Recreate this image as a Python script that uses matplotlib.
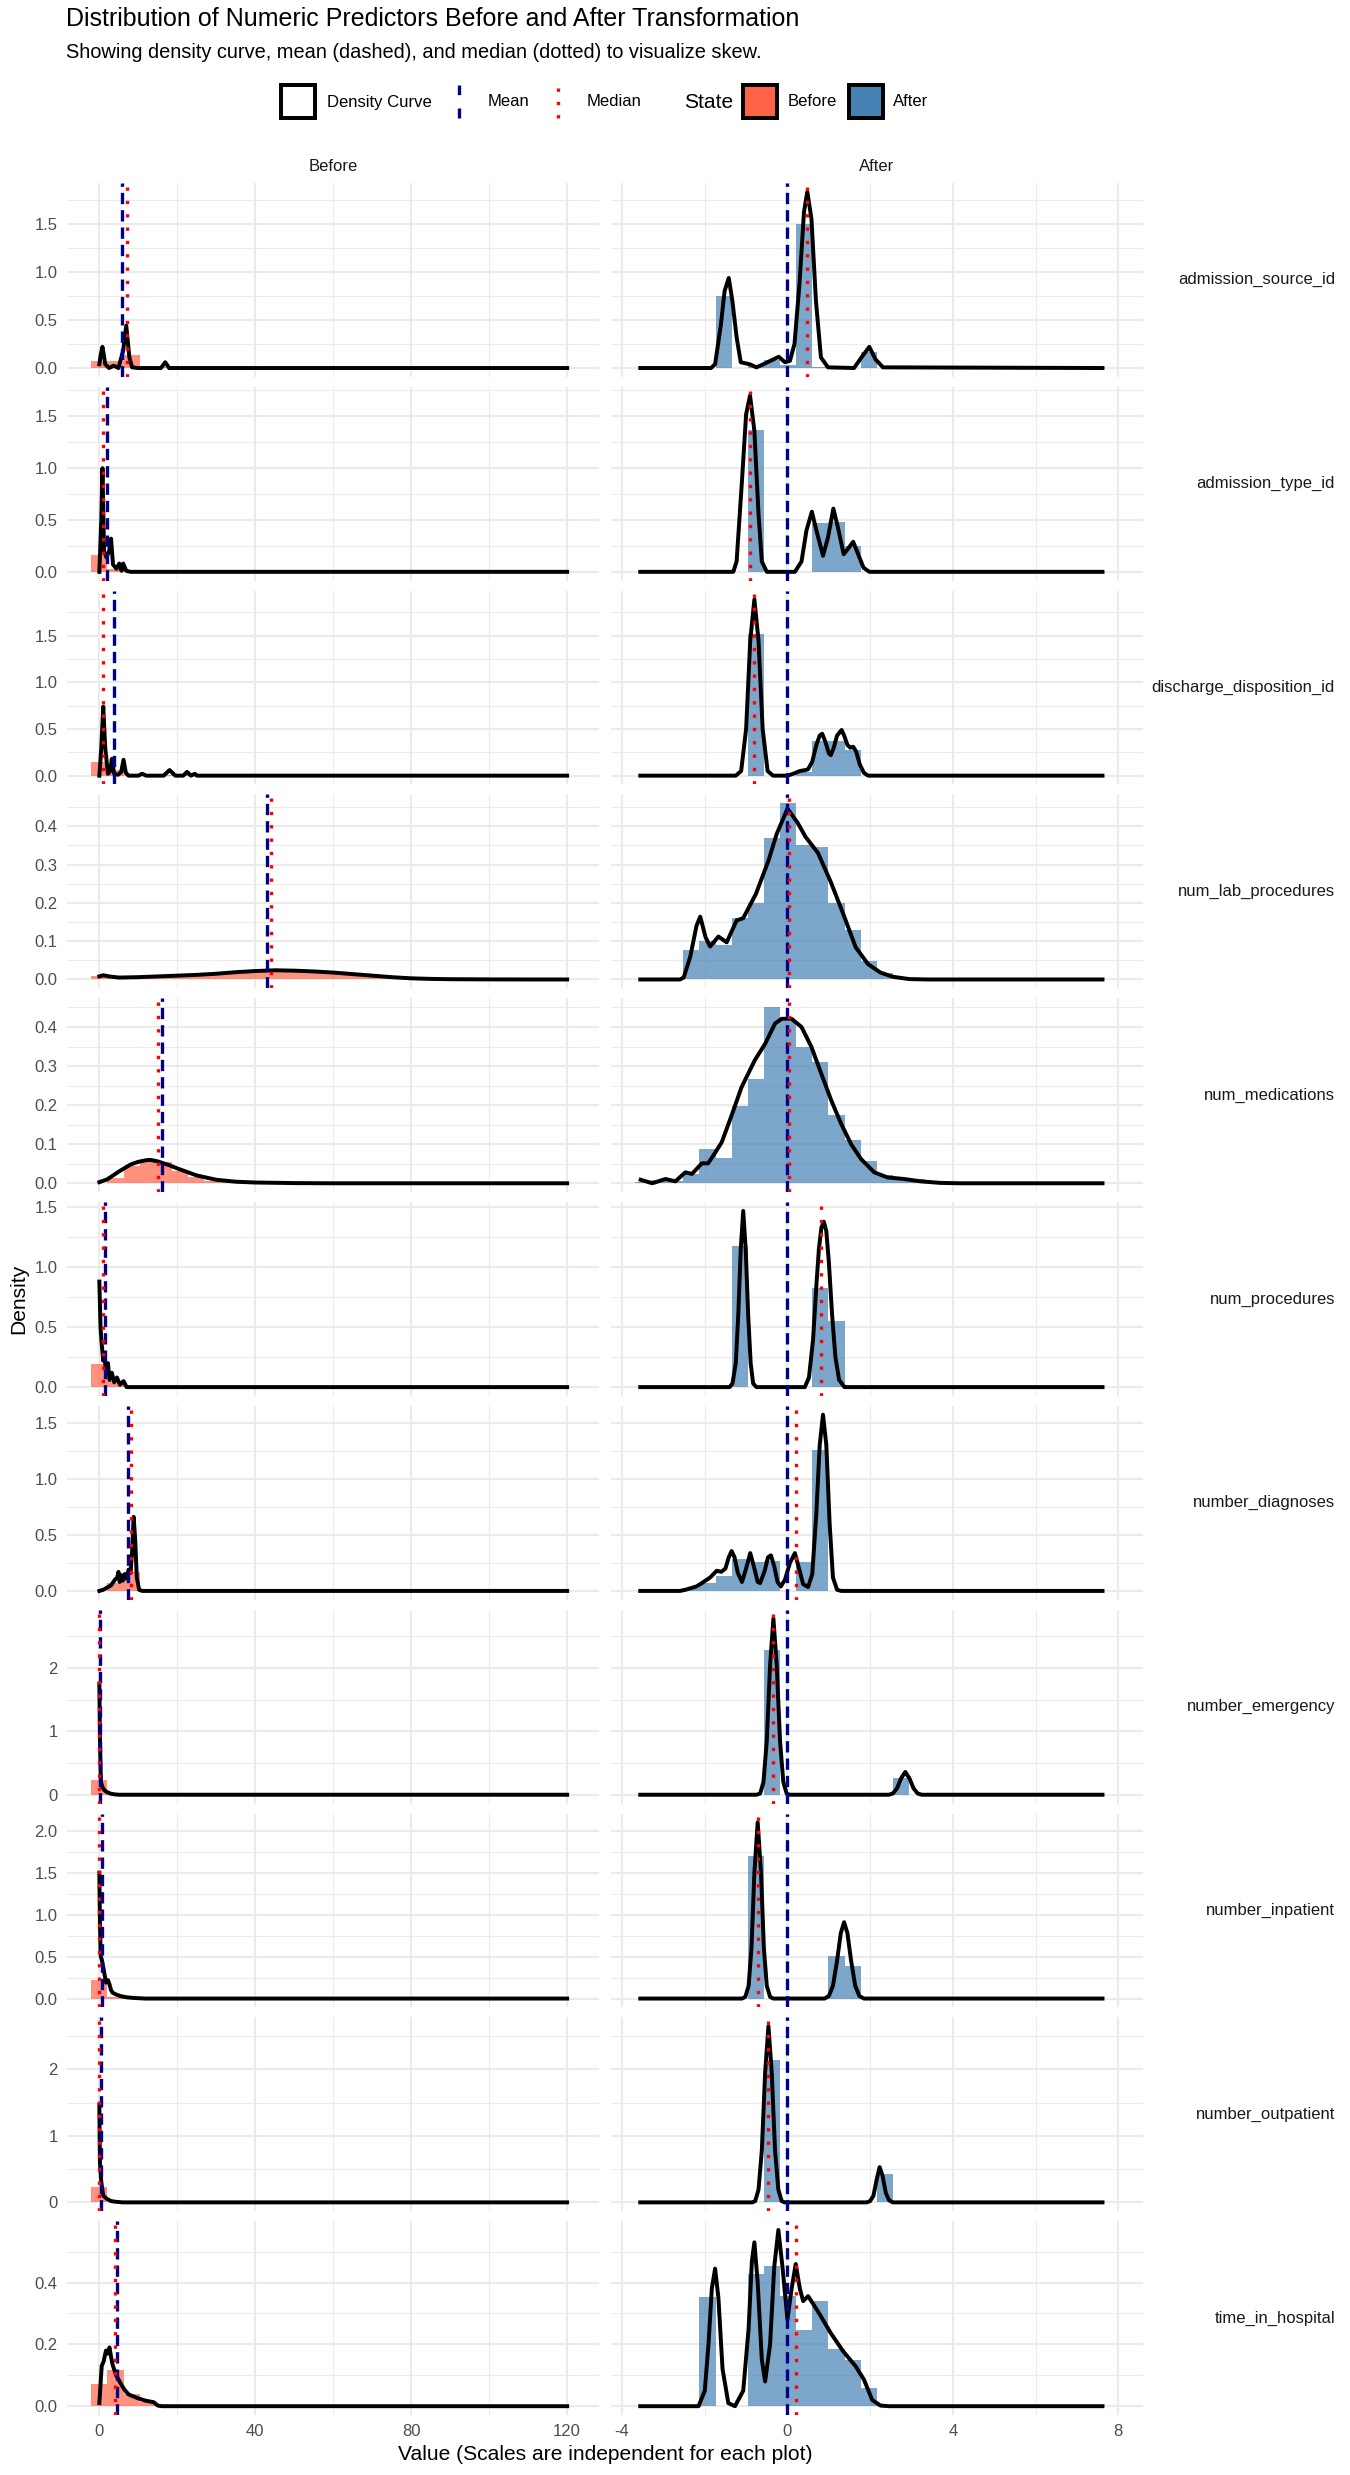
import matplotlib.pyplot as plt
import numpy as np
from matplotlib.lines import Line2D
from matplotlib.patches import Rectangle
from matplotlib.ticker import FormatStrFormatter, MultipleLocator
from matplotlib.transforms import blended_transform_factory

plt.rcParams["font.family"] = ["Liberation Sans", "DejaVu Sans"]
plt.rcParams["axes.unicode_minus"] = False

variables = [
    "admission_source_id", "admission_type_id", "discharge_disposition_id",
    "num_lab_procedures", "num_medications", "num_procedures",
    "number_diagnoses", "number_emergency", "number_inpatient",
    "number_outpatient", "time_in_hospital",
]

# histogram bins (30 bins per column, density scale)
before_bin_start = -2.07
before_bin_width = 4.14
after_bin_start = -3.69
after_bin_width = 0.39

before_mean = [5.75, 2.02, 3.7, 43.1, 16.0, 1.34, 7.4, 0.2, 0.64, 0.37, 4.4]
before_median = [7.0, 1.0, 1.0, 44.0, 15.0, 1.0, 8.0, 0.0, 0.0, 0.0, 4.0]
after_mean = [0.0] * 11
after_median = [0.48, -0.905, -0.8, 0.04, 0.04, 0.8, 0.2, -0.34, -0.72, -0.46, 0.2]

y_tick_step = [0.5, 0.5, 0.5, 0.1, 0.1, 0.5, 0.5, 1, 0.5, 1, 0.2]

# ---- admission_source_id
source_before_hist = [0.076, 0.076, 0.137, 0.0, 0.008]
source_before_x = [0, 0.4, 0.8, 1.2, 1.5, 2.5, 3.7, 4.9, 6.1, 6.9, 7.7, 8.4, 9.9, 15.8, 16.9, 17.9, 120]
source_before_y = [0.04, 0.15, 0.22, 0.12, 0.04, 0.0, 0.024, 0.0, 0.18, 0.44, 0.11, 0.007, 0.0, 0.0, 0.06, 0.0, 0.0]
source_after_hist = [0, 0, 0, 0, 0, 0.75, 0, 0.02, 0.087, 0.03, 1.5, 0.01, 0, 0, 0.17]
source_after_x = [-3.56, -1.85, -1.75, -1.61, -1.52, -1.42, -1.33, -1.23, -1.13, -0.92, -0.75, -0.58,
                  -0.21, -0.06, 0.06, 0.17, 0.29, 0.40, 0.48, 0.58, 0.69, 0.81, 0.98, 1.61, 1.79,
                  1.98, 2.13, 2.31, 7.62]
source_after_y = [0, 0, 0.04, 0.45, 0.8, 0.935, 0.69, 0.32, 0.06, 0.04, 0.007, 0.04, 0.117, 0.06,
                  0.075, 0.25, 0.87, 1.62, 1.83, 1.55, 0.69, 0.11, 0.007, 0, 0.11, 0.22, 0.09, 0.007, 0]

# ---- admission_type_id
type_before_hist = [0.164, 0.03]
type_before_x = [0, 0.5, 0.8, 1.0, 1.2, 1.8, 2.5, 3.0, 3.5, 4.4, 5.1, 5.7, 6.1, 6.9, 8.0, 120]
type_before_y = [0.0, 0.5, 1.0, 0.6, 0.2, 0.14, 0.2, 0.32, 0.07, 0.03, 0.08, 0.01, 0.08, 0.01, 0, 0]
type_after_hist = [0, 0, 0, 0, 0, 0, 0, 1.365, 0, 0, 0, 0.468, 0.484, 0.245]
type_after_x = [-3.56, -1.31, -1.23, -1.1, -1.0, -0.905, -0.8, -0.7, -0.62, -0.5, 0.18, 0.34, 0.46,
                0.59, 0.7, 0.86, 0.98, 1.11, 1.22, 1.36, 1.46, 1.59, 1.71, 1.84, 1.98, 7.62]
type_after_y = [0, 0, 0.1, 0.88, 1.52, 1.70, 1.36, 0.56, 0.1, 0, 0, 0.1, 0.4, 0.58, 0.4, 0.155, 0.33,
                0.61, 0.43, 0.17, 0.22, 0.29, 0.17, 0.04, 0, 0]

# ---- discharge_disposition_id
discharge_before_hist = [0.142, 0.065, 0.003, 0.0, 0.009, 0.005, 0.004]
discharge_before_x = [0, 0.5, 1.0, 1.5, 2.2, 2.8, 3.2, 3.8, 4.8, 5.6, 6.2, 6.8, 7.5, 10, 11, 12,
                      16.5, 18, 19.5, 21.5, 22.5, 23.5, 24.5, 25, 25.5, 120]
discharge_before_y = [0.0, 0.3, 0.74, 0.3, 0.02, 0.05, 0.18, 0.02, 0.01, 0.04, 0.17, 0.03, 0.0, 0.0,
                      0.02, 0.0, 0.0, 0.06, 0.0, 0.0, 0.04, 0.0, 0.02, 0.0, 0.0, 0.0]
discharge_after_hist = [0, 0, 0, 0, 0, 0, 0, 1.52, 0, 0, 0.04, 0.37, 0.37, 0.27]
discharge_after_x = [-3.56, -1.25, -1.12, -1.0, -0.9, -0.8, -0.7, -0.6, -0.48, -0.35, 0.0, 0.14, 0.3,
                     0.44, 0.5, 0.6, 0.7, 0.78, 0.84, 0.92, 1.0, 1.05, 1.12, 1.2, 1.31, 1.38, 1.45,
                     1.52, 1.59, 1.66, 1.75, 1.85, 1.95, 7.62]
discharge_after_y = [0, 0, 0.05, 0.5, 1.45, 1.89, 1.45, 0.5, 0.05, 0, 0, 0.02, 0.05, 0.06, 0.07, 0.15,
                     0.33, 0.43, 0.45, 0.36, 0.24, 0.22, 0.3, 0.43, 0.49, 0.42, 0.33, 0.3, 0.31, 0.26,
                     0.12, 0.03, 0, 0]

# ---- num_lab_procedures
lab_before_hist = [0.009, 0.006, 0.005, 0.005, 0.007, 0.009, 0.010, 0.012, 0.014, 0.018, 0.021, 0.024,
                   0.024, 0.022, 0.020, 0.017, 0.014, 0.011, 0.007, 0.004, 0.002, 0.001, 0.0005]
lab_before_x = [0, 1, 2.5, 5, 10, 15, 20, 25, 30, 35, 40, 45, 50, 55, 60, 65, 70, 75, 80, 85, 90, 100,
                110, 120]
lab_before_y = [0.008, 0.011, 0.008, 0.005, 0.006, 0.008, 0.010, 0.012, 0.015, 0.019, 0.022, 0.024,
                0.023, 0.021, 0.018, 0.014, 0.010, 0.006, 0.003, 0.0015, 0.0007, 0.0002, 0, 0]
lab_after_hist = [0, 0, 0, 0.078, 0.10, 0.09, 0.16, 0.20, 0.37, 0.46, 0.35, 0.345, 0.20, 0.13, 0.047,
                  0.016]
lab_after_x = [-3.56, -2.6, -2.51, -2.35, -2.2, -2.11, -1.98, -1.87, -1.67, -1.47, -1.23, -1.07, -0.76,
               -0.46, -0.26, 0.0, 0.24, 0.44, 0.74, 1.05, 1.35, 1.65, 1.95, 2.25, 2.55, 2.95, 3.4, 7.62]
lab_after_y = [0, 0, 0.005, 0.06, 0.14, 0.164, 0.11, 0.086, 0.112, 0.097, 0.154, 0.16, 0.224, 0.31,
               0.38, 0.446, 0.41, 0.372, 0.33, 0.254, 0.171, 0.084, 0.04, 0.018, 0.007, 0.001, 0, 0]

# ---- num_medications
meds_before_hist = [0.001, 0.013, 0.043, 0.058, 0.055, 0.032, 0.015, 0.007, 0.003, 0.0015, 0.001]
meds_before_x = [0, 2, 5, 8, 10, 12, 13, 15, 18, 20, 25, 30, 35, 40, 50, 60, 120]
meds_before_y = [0.003, 0.01, 0.03, 0.048, 0.055, 0.059, 0.06, 0.056, 0.046, 0.038, 0.02, 0.009,
                 0.004, 0.002, 0.0005, 0, 0]
meds_after_hist = [0.004, 0.009, 0.005, 0.024, 0.089, 0.064, 0.199, 0.266, 0.451, 0.415, 0.349, 0.31,
                   0.174, 0.112, 0.056, 0.02, 0.014, 0.01, 0.006, 0.003]
meds_after_x = [-3.55, -3.27, -2.95, -2.71, -2.47, -2.31, -2.07, -1.92, -1.75, -1.59, -1.35, -1.11,
                -0.79, -0.54, -0.3, -0.14, 0.1, 0.34, 0.58, 0.82, 1.06, 1.3, 1.54, 1.78, 2.1, 2.42,
                2.82, 3.22, 3.7, 4.2, 7.62]
meds_after_y = [0.009, 0.0, 0.011, 0.005, 0.028, 0.024, 0.051, 0.051, 0.078, 0.105, 0.174, 0.246,
                0.315, 0.357, 0.409, 0.421, 0.421, 0.4, 0.349, 0.28, 0.212, 0.152, 0.1, 0.062, 0.028,
                0.015, 0.011, 0.005, 0.001, 0, 0]

# ---- num_procedures
procs_before_hist = [0.19, 0.05]
procs_before_x = [0, 0.3, 0.6, 1.0, 1.3, 1.7, 2.2, 2.6, 3.2, 3.8, 4.5, 5.3, 6.2, 7.0, 120]
procs_before_y = [0.88, 0.5, 0.36, 0.22, 0.28, 0.12, 0.2, 0.06, 0.12, 0.04, 0.08, 0.02, 0.05, 0.0, 0.0]
procs_after_hist = [0, 0, 0, 0, 0, 0, 1.18, 0, 0, 0, 0, 0.83, 0.55]
procs_after_x = [-3.56, -1.4, -1.33, -1.25, -1.19, -1.13, -1.07, -1.01, -0.95, -0.89, -0.83, -0.75,
                 0.42, 0.52, 0.62, 0.7, 0.76, 0.82, 0.88, 0.94, 1.0, 1.08, 1.16, 1.25, 1.38, 7.62]
procs_after_y = [0, 0, 0.03, 0.2, 0.6, 1.15, 1.47, 1.15, 0.6, 0.2, 0.03, 0, 0, 0.08, 0.4, 0.85, 1.15,
                 1.33, 1.38, 1.3, 1.05, 0.6, 0.25, 0.06, 0, 0]

# ---- number_diagnoses
diag_before_hist = [0.001, 0.07, 0.166, 0.003]
diag_before_x = [0, 1, 2, 3, 4, 4.6, 4.9, 5.2, 5.6, 6.0, 6.5, 7.0, 7.5, 8.0, 8.4, 8.8, 9.2, 9.6, 10.2,
                 11, 120]
diag_before_y = [0, 0.01, 0.03, 0.05, 0.1, 0.12, 0.17, 0.08, 0.14, 0.09, 0.15, 0.11, 0.19, 0.16, 0.35,
                 0.66, 0.45, 0.12, 0.01, 0, 0]
diag_after_hist = [0, 0, 0, 0.03, 0.07, 0.13, 0.28, 0.26, 0.27, 0, 0.26, 1.26]
diag_after_x = [-3.56, -2.6, -2.47, -2.2, -2.07, -1.87, -1.71, -1.6, -1.5, -1.42, -1.35, -1.28, -1.2,
                -1.1, -1.0, -0.9, -0.8, -0.72, -0.66, -0.55, -0.47, -0.4, -0.32, -0.24, -0.16, -0.06,
                0.06, 0.18, 0.28, 0.38, 0.5, 0.6, 0.7, 0.78, 0.86, 0.94, 1.02, 1.1, 1.2, 1.3, 7.62]
diag_after_y = [0, 0, 0.01, 0.04, 0.07, 0.12, 0.18, 0.17, 0.2, 0.3, 0.355, 0.3, 0.16, 0.08, 0.2, 0.337,
                0.2, 0.08, 0.07, 0.18, 0.3, 0.317, 0.22, 0.08, 0.04, 0.1, 0.25, 0.337, 0.2, 0.06,
                0.035, 0.15, 0.7, 1.3, 1.57, 1.3, 0.6, 0.12, 0.01, 0, 0]

# ---- number_emergency
emerg_before_hist = [0.238, 0.006, 0.001]
emerg_before_x = [0, 0.15, 0.4, 0.8, 1.3, 2, 3, 4, 5, 120]
emerg_before_y = [1.75, 0.9, 0.2, 0.12, 0.07, 0.04, 0.015, 0.005, 0, 0]
emerg_after_hist = [0, 0, 0, 0, 0, 0, 0, 0, 2.29, 0, 0, 0, 0, 0, 0, 0, 0.27]
emerg_after_x = [-3.56, -0.75, -0.66, -0.58, -0.5, -0.42, -0.34, -0.26, -0.18, -0.1, -0.02, 0.05,
                 2.45, 2.55, 2.65, 2.75, 2.85, 2.95, 3.05, 3.15, 3.25, 7.62]
emerg_after_y = [0, 0, 0.02, 0.2, 0.85, 2.05, 2.78, 2.05, 0.85, 0.2, 0.02, 0, 0, 0.02, 0.1, 0.26, 0.36,
                 0.26, 0.1, 0.02, 0, 0]

# ---- number_inpatient
inpat_before_hist = [0.225, 0.016, 0.002]
inpat_before_x = [0, 0.15, 0.35, 0.6, 1.1, 1.7, 2.2, 2.6, 3.0, 3.4, 4.2, 5.4, 7, 8.6, 11.8, 120]
inpat_before_y = [1.5, 0.9, 0.5, 0.47, 0.35, 0.19, 0.22, 0.17, 0.1, 0.07, 0.05, 0.03, 0.015, 0.008, 0, 0]
inpat_after_hist = [0, 0, 0, 0, 0, 0, 0, 1.70, 0, 0, 0, 0, 0.51, 0.39]
inpat_after_x = [-3.56, -1.1, -1.02, -0.94, -0.87, -0.8, -0.72, -0.64, -0.57, -0.5, -0.42, -0.34, 0.9,
                 1.0, 1.1, 1.2, 1.29, 1.37, 1.45, 1.54, 1.64, 1.74, 1.85, 7.62]
inpat_after_y = [0, 0, 0.02, 0.15, 0.6, 1.5, 2.1, 1.5, 0.6, 0.15, 0.02, 0, 0, 0.03, 0.15, 0.45, 0.78,
                 0.91, 0.78, 0.45, 0.15, 0.03, 0, 0]

# ---- number_outpatient
outpat_before_hist = [0.235, 0.005, 0.001]
outpat_before_x = [0, 0.15, 0.5, 1, 2, 3, 4, 6, 120]
outpat_before_y = [1.47, 0.6, 0.3, 0.1, 0.05, 0.02, 0.01, 0, 0]
outpat_after_hist = [0, 0, 0, 0, 0, 0, 0, 0, 2.14, 0, 0, 0, 0, 0, 0, 0.42]
outpat_after_x = [-3.56, -0.85, -0.78, -0.7, -0.62, -0.54, -0.46, -0.38, -0.3, -0.22, -0.14, -0.07,
                  1.92, 2.0, 2.08, 2.16, 2.23, 2.3, 2.38, 2.46, 2.55, 7.62]
outpat_after_y = [0, 0, 0.02, 0.19, 0.78, 1.95, 2.65, 1.95, 0.78, 0.19, 0.02, 0, 0, 0.02, 0.1, 0.35,
                  0.53, 0.4, 0.14, 0.03, 0, 0]

# ---- time_in_hospital
time_before_hist = [0.073, 0.118, 0.038, 0.015]
time_before_x = [0, 0.6, 1.1, 1.7, 2.1, 2.6, 3.0, 3.4, 4.3, 5.4, 6.4, 7.5, 9.6, 11.8, 13.9, 15, 16, 120]
time_before_y = [0.01, 0.13, 0.145, 0.18, 0.17, 0.19, 0.16, 0.134, 0.1, 0.075, 0.054, 0.038, 0.027,
                 0.018, 0.013, 0.002, 0, 0]
time_after_hist = [0, 0, 0, 0, 0.352, 0, 0, 0.426, 0.453, 0.356, 0.247, 0.34, 0.186, 0.15, 0.06]
time_after_x = [-3.56, -2.15, -2.0, -1.91, -1.83, -1.75, -1.67, -1.57, -1.43, -1.27, -1.07, -0.94,
                -0.86, -0.8, -0.72, -0.62, -0.54, -0.42, -0.32, -0.22, -0.12, 0.0, 0.1, 0.2, 0.3,
                0.38, 0.5, 0.74, 1.05, 1.35, 1.65, 1.85, 2.05, 2.25, 2.45, 7.62]
time_after_y = [0, 0, 0.05, 0.2, 0.38, 0.445, 0.35, 0.12, 0.01, 0.0, 0.05, 0.25, 0.47, 0.53, 0.4,
                0.15, 0.08, 0.2, 0.45, 0.57, 0.45, 0.28, 0.38, 0.46, 0.38, 0.34, 0.356, 0.306, 0.236,
                0.177, 0.129, 0.086, 0.02, 0.002, 0, 0]

before_hists = [source_before_hist, type_before_hist, discharge_before_hist, lab_before_hist,
                meds_before_hist, procs_before_hist, diag_before_hist, emerg_before_hist,
                inpat_before_hist, outpat_before_hist, time_before_hist]
before_curves = [(source_before_x, source_before_y), (type_before_x, type_before_y),
                 (discharge_before_x, discharge_before_y), (lab_before_x, lab_before_y),
                 (meds_before_x, meds_before_y), (procs_before_x, procs_before_y),
                 (diag_before_x, diag_before_y), (emerg_before_x, emerg_before_y),
                 (inpat_before_x, inpat_before_y), (outpat_before_x, outpat_before_y),
                 (time_before_x, time_before_y)]
after_hists = [source_after_hist, type_after_hist, discharge_after_hist, lab_after_hist,
               meds_after_hist, procs_after_hist, diag_after_hist, emerg_after_hist,
               inpat_after_hist, outpat_after_hist, time_after_hist]
after_curves = [(source_after_x, source_after_y), (type_after_x, type_after_y),
                (discharge_after_x, discharge_after_y), (lab_after_x, lab_after_y),
                (meds_after_x, meds_after_y), (procs_after_x, procs_after_y),
                (diag_after_x, diag_after_y), (emerg_after_x, emerg_after_y),
                (inpat_after_x, inpat_after_y), (outpat_after_x, outpat_after_y),
                (time_after_x, time_after_y)]

W, H = 1350, 2475
fig, axes = plt.subplots(11, 2, figsize=(9, 16.5), dpi=150, sharex="col")
fig.subplots_adjust(left=67 / W, right=1143 / W, top=1 - 183 / H, bottom=1 - 2415 / H,
                    wspace=0.0207, hspace=0.0515)

GRID = "#EBEBEB"
MEAN_LS = (0, (3.4, 1.8))
MEDIAN_LS = (0, (1, 3))
SMALL = 8.0
MEDIUM = 10.1

columns = [
    ("Before", before_hists, before_curves, before_bin_start, before_bin_width,
     before_mean, before_median, "#FF6347", (-8.3, 128.3), 40),
    ("After", after_hists, after_curves, after_bin_start, after_bin_width,
     after_mean, after_median, "#4682B4", (-4.28, 8.6), 4),
]

for i, var in enumerate(variables):
    row_max = max(max(before_hists[i]), max(before_curves[i][1]),
                  max(after_hists[i]), max(after_curves[i][1]))
    step = y_tick_step[i]
    for j, (label, hists, curves, b0, bw, means, medians, color, xlim, xstep) in enumerate(columns):
        ax = axes[i, j]
        heights = hists[i]
        lefts = b0 + bw * np.arange(len(heights))
        ax.bar(lefts, heights, width=bw, align="edge", color=color, alpha=0.7,
               linewidth=0, zorder=2)
        cx, cy = curves[i]
        ax.plot(cx, cy, color="black", lw=1.9, zorder=3, solid_joinstyle="round")
        ax.axvline(means[i], color="darkblue", lw=1.6, ls=MEAN_LS, zorder=4)
        ax.axvline(medians[i], color="red", lw=1.6, ls=MEDIAN_LS, zorder=5,
                   dash_capstyle="butt")

        ax.set_xlim(*xlim)
        ax.set_ylim(-0.05 * row_max, 1.05 * row_max)
        ax.xaxis.set_major_locator(MultipleLocator(xstep))
        ax.xaxis.set_minor_locator(MultipleLocator(xstep / 2))
        ax.xaxis.set_major_formatter(FormatStrFormatter("%d"))
        ax.yaxis.set_major_locator(MultipleLocator(step))
        ax.yaxis.set_minor_locator(MultipleLocator(step / 2))
        ax.yaxis.set_major_formatter(FormatStrFormatter("%.1f" if step < 1 else "%d"))
        ax.grid(which="major", color=GRID, lw=1.0, zorder=0)
        ax.grid(which="minor", color=GRID, lw=0.5, zorder=0)
        ax.set_axisbelow(True)
        for s in ax.spines.values():
            s.set_visible(False)
        ax.tick_params(which="both", length=0, labelsize=SMALL, labelcolor="#4D4D4D", pad=4.5)
        if j == 1:
            ax.tick_params(labelleft=False)
        if i == 0:
            ax.annotate(label, xy=(0.5, 1), xycoords="axes fraction", xytext=(0, 7.7),
                        textcoords="offset points", ha="center", va="center",
                        fontsize=SMALL, color="#1A1A1A")
    trans = blended_transform_factory(fig.transFigure, axes[i, 1].transAxes)
    axes[i, 1].text(1335 / W, 0.5, var, transform=trans, ha="right", va="center",
                    fontsize=SMALL, color="#1A1A1A")


def fx(px):
    return px / W


def fy(py):
    return 1 - py / H


fig.text(fx(66), fy(19), "Distribution of Numeric Predictors Before and After Transformation",
         ha="left", va="center", fontsize=12.0, color="black")
fig.text(fx(66), fy(52), "Showing density curve, mean (dashed), and median (dotted) to visualize skew.",
         ha="left", va="center", fontsize=9.6, color="black")
fig.text(fx(605), fy(2455), "Value (Scales are independent for each plot)",
         ha="center", va="center", fontsize=MEDIUM)
fig.text(fx(19), fy(1299), "Density", ha="center", va="center", rotation=90, fontsize=MEDIUM)

# legend
ly_top, ly_bot, ly_mid = 85, 118, 102
fig.add_artist(Rectangle((fx(281), fy(ly_bot)), 34 / W, 33 / H, transform=fig.transFigure,
                         facecolor="white", edgecolor="black", lw=1.9))
fig.text(fx(327), fy(ly_mid), "Density Curve", ha="left", va="center", fontsize=SMALL)
fig.add_artist(Line2D([fx(459)] * 2, [fy(ly_bot), fy(ly_top)], transform=fig.transFigure,
                      color="darkblue", lw=1.6, ls=(0, (3.0, 4.0))))
fig.text(fx(488), fy(ly_mid), "Mean", ha="left", va="center", fontsize=SMALL)
fig.add_artist(Line2D([fx(558)] * 2, [fy(ly_bot), fy(ly_top)], transform=fig.transFigure,
                      color="red", lw=1.6, ls=MEDIAN_LS, dash_capstyle="butt"))
fig.text(fx(587), fy(ly_mid), "Median", ha="left", va="center", fontsize=SMALL)
fig.text(fx(684), fy(ly_mid), "State", ha="left", va="center", fontsize=MEDIUM)
fig.add_artist(Rectangle((fx(743), fy(ly_bot)), 34 / W, 33 / H, transform=fig.transFigure,
                         facecolor="#FF6347", edgecolor="black", lw=1.9))
fig.text(fx(788), fy(ly_mid), "Before", ha="left", va="center", fontsize=SMALL)
fig.add_artist(Rectangle((fx(849), fy(ly_bot)), 34 / W, 33 / H, transform=fig.transFigure,
                         facecolor="#4682B4", edgecolor="black", lw=1.9))
fig.text(fx(893), fy(ly_mid), "After", ha="left", va="center", fontsize=SMALL)

fig.savefig("out.png", dpi=150, facecolor="white")
